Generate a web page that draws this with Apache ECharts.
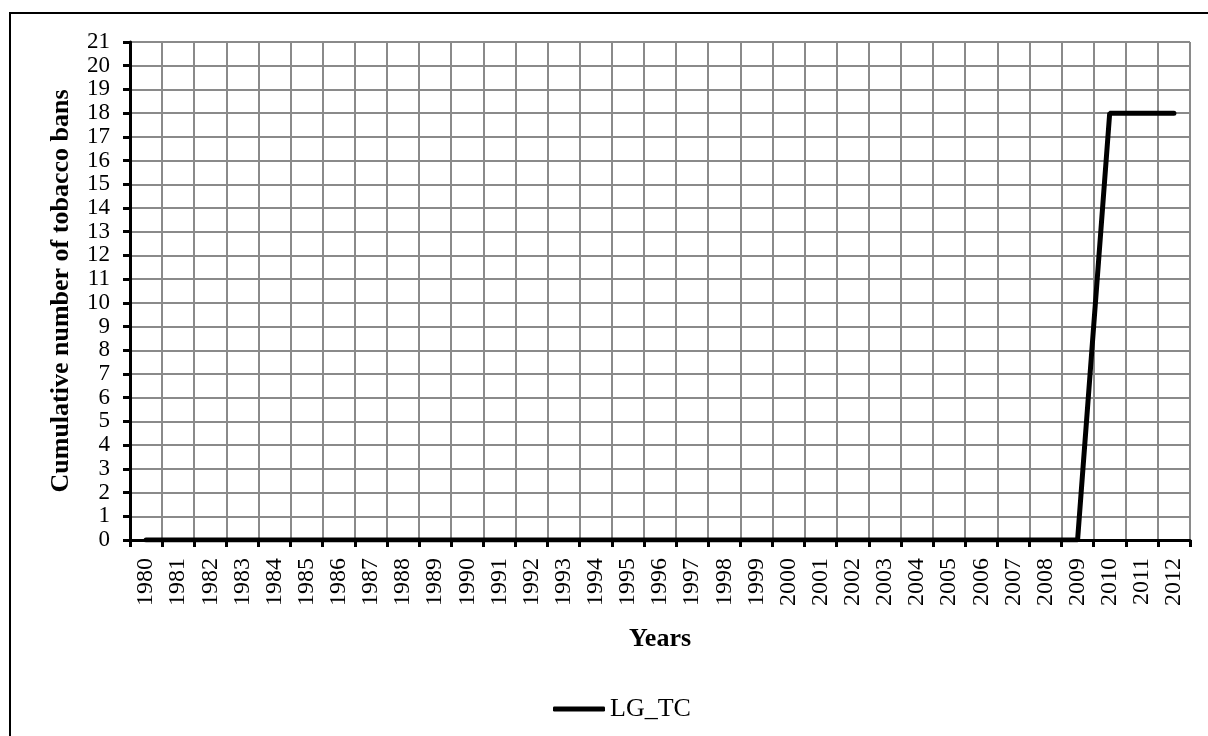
<!DOCTYPE html>
<html>
<head>
<meta charset="utf-8">
<script src="https://cdn.jsdelivr.net/npm/echarts@6/dist/echarts.min.js"></script>
<style>
  html, body { margin: 0; padding: 0; background: #fff; }
  #chart { width: 1208px; height: 736px; }
</style>
</head>
<body>
<div id="chart"></div>
<script>
let years = []
for (let y = 1980; y <= 2012; y++) years.push(String(y))
let lgTc = [0, 0, 0, 0, 0, 0, 0, 0, 0, 0,
            0, 0, 0, 0, 0, 0, 0, 0, 0, 0,
            0, 0, 0, 0, 0, 0, 0, 0, 0, 0,
            18, 18, 18]
let seriesName = 'LG_TC'

let font = 'Liberation Serif, Times New Roman, serif'
let myChart = echarts.init(document.getElementById('chart'))
myChart.setOption({
  animation: false,
  graphic: [{
    type: 'rect',
    shape: { x: 10, y: 13, width: 1400, height: 900 },
    style: { fill: 'none', stroke: '#000', lineWidth: 2 },
    silent: true
  }],
  grid: {
    left: 130,
    right: 18,
    top: 42,
    bottom: 196
  },
  legend: {
    left: 548,
    top: 691,
    itemWidth: 52,
    itemHeight: 5,
    itemGap: 6,
    data: [{ name: seriesName, icon: 'roundRect' }],
    textStyle: { fontFamily: font, fontSize: 26, color: '#000' }
  },
  xAxis: {
    type: 'category',
    data: years,
    boundaryGap: true,
    name: 'Years',
    nameLocation: 'middle',
    nameGap: 86,
    nameTextStyle: { fontFamily: font, fontSize: 26, fontWeight: 'bold', color: '#000' },
    axisLine: { lineStyle: { color: '#000', width: 3 } },
    axisTick: { show: true, interval: 0, length: 7, lineStyle: { color: '#000', width: 3 } },
    axisLabel: {
      rotate: 90,
      margin: 18,
      interval: 0,
      fontFamily: font,
      fontSize: 24,
      color: '#000'
    },
    splitLine: { show: true, interval: 0, lineStyle: { color: '#8a8a8a', width: 2 } }
  },
  yAxis: {
    type: 'value',
    min: 0,
    max: 21,
    interval: 1,
    name: 'Cumulative number of tobacco bans',
    nameLocation: 'middle',
    nameGap: 56,
    nameTextStyle: { fontFamily: font, fontSize: 26, fontWeight: 'bold', color: '#000' },
    axisLine: { show: true, lineStyle: { color: '#000', width: 3 } },
    axisTick: { show: true, length: 7, lineStyle: { color: '#000', width: 3 } },
    axisLabel: {
      margin: 20,
      showMinLabel: true,
      showMaxLabel: true,
      hideOverlap: false,
      lineHeight: 20,
      fontFamily: font,
      fontSize: 23,
      color: '#000'
    },
    splitLine: { show: true, lineStyle: { color: '#8a8a8a', width: 2 } }
  },
  series: [
    {
      name: seriesName,
      type: 'line',
      data: lgTc,
      showSymbol: false,
      symbol: 'none',
      lineStyle: { color: '#000', width: 5, cap: 'round' },
      itemStyle: { color: '#000' }
    }
  ]
})
</script>
</body>
</html>
